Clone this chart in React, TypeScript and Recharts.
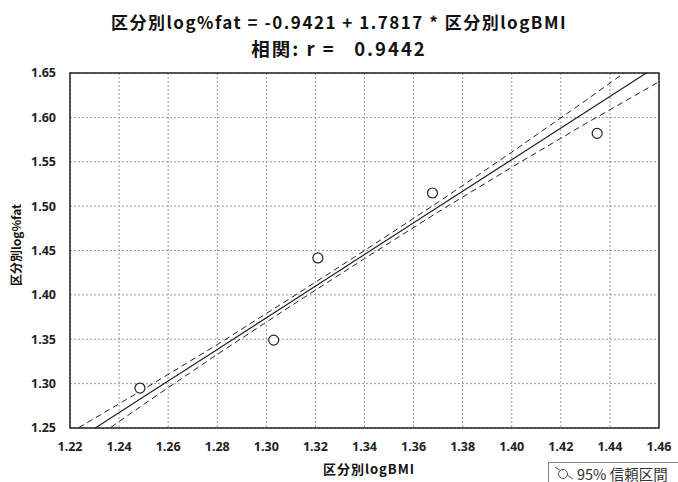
import {
  ComposedChart,
  Line,
  Scatter,
  XAxis,
  YAxis,
  CartesianGrid,
  ReferenceArea,
} from "recharts";

// observed points (区分別logBMI, 区分別log%fat)
const pointX = [1.2485, 1.303, 1.321, 1.3677, 1.4348];
const pointY = [1.295, 1.349, 1.4416, 1.5148, 1.582];

// regression line and 95% band, read at these x positions
const bandX = [1.22, 1.25, 1.28, 1.31, 1.34, 1.37, 1.4, 1.43, 1.46];
const fitY = [1.2316, 1.2851, 1.3385, 1.392, 1.4454, 1.4989, 1.5523, 1.6058, 1.6592];
const upperY = [1.2446, 1.2936, 1.344, 1.3965, 1.4499, 1.5044, 1.5608, 1.6188, 1.6782];
const lowerY = [1.2186, 1.2766, 1.333, 1.3875, 1.4409, 1.4934, 1.5438, 1.5928, 1.6402];

const xTicks = [1.22, 1.24, 1.26, 1.28, 1.3, 1.32, 1.34, 1.36, 1.38, 1.4, 1.42, 1.44, 1.46];
const yTicks = [1.25, 1.3, 1.35, 1.4, 1.45, 1.5, 1.55, 1.6, 1.65];

const lineData = bandX.map((x, i) => ({
  x,
  fit: fitY[i],
  upper: upperY[i],
  lower: lowerY[i],
}));
const pointData = pointX.map((x, i) => ({ x, y: pointY[i] }));

const FONT = "'Noto Sans', 'Noto Sans CJK JP', sans-serif";
const CJK = "'Noto Sans CJK JP', 'Noto Sans', sans-serif";
const tickStyle = { fontSize: 12.5, fontWeight: 700, fill: "#222", fontFamily: FONT };

const Ring = (props: any) => (
  <circle cx={props.cx} cy={props.cy} r={5} fill="#fff" stroke="#222" strokeWidth={1.2} />
);

export default function App() {
  return (
    <div style={{ position: "absolute", left: 0, top: 0, width: 678, height: 482, background: "#fff", overflow: "hidden" }}>
      <div
        style={{
          position: "absolute",
          top: 8,
          left: 0,
          width: 678,
          textAlign: "center",
          fontFamily: CJK,
          fontWeight: 700,
          color: "#111",
        }}
      >
        <div style={{ fontSize: 17, letterSpacing: 1.5, lineHeight: "27px" }}>
          区分別log%fat = -0.9421 + 1.7817 * 区分別logBMI
        </div>
        <div style={{ fontSize: 18.5, letterSpacing: 2, lineHeight: "27px", whiteSpace: "pre" }}>
          相関: r =   0.9442
        </div>
      </div>
      <ComposedChart
        width={678}
        height={482}
        data={lineData}
        margin={{ top: 73, right: 19, bottom: 24, left: 0 }}
      >
        <CartesianGrid xAxisId="b" yAxisId="l" stroke="#999" strokeDasharray="2 2" />
        <XAxis
          xAxisId="b"
          type="number"
          dataKey="x"
          domain={[1.22, 1.46]}
          ticks={xTicks}
          allowDataOverflow
          tickFormatter={(v) => v.toFixed(2)}
          tick={tickStyle}
          tickLine={false}
          axisLine={false}
          height={30}
          tickMargin={8}
        />
        <YAxis
          yAxisId="l"
          type="number"
          domain={[1.25, 1.65]}
          ticks={yTicks}
          allowDataOverflow
          tickFormatter={(v) => v.toFixed(2)}
          tick={tickStyle}
          tickLine={false}
          axisLine={false}
          width={70}
          tickMargin={8}
        />
        <Line xAxisId="b" yAxisId="l" dataKey="upper" stroke="#222" strokeWidth={1} strokeDasharray="6 4" dot={false} isAnimationActive={false} />
        <Line xAxisId="b" yAxisId="l" dataKey="lower" stroke="#222" strokeWidth={1} strokeDasharray="6 4" dot={false} isAnimationActive={false} />
        <Line xAxisId="b" yAxisId="l" dataKey="fit" stroke="#222" strokeWidth={1.2} dot={false} isAnimationActive={false} />
        <Scatter xAxisId="b" yAxisId="l" data={pointData} dataKey="y" shape={Ring} isAnimationActive={false} />
        <ReferenceArea
          xAxisId="b"
          yAxisId="l"
          x1={1.22}
          x2={1.46}
          y1={1.25}
          y2={1.65}
          fill="none"
          fillOpacity={0}
          stroke="#222"
          strokeWidth={1.5}
          strokeOpacity={1}
        />
      </ComposedChart>
      <div
        style={{
          position: "absolute",
          left: 0,
          top: 459,
          width: 738,
          textAlign: "center",
          fontFamily: CJK,
          fontWeight: 700,
          fontSize: 13,
          letterSpacing: 1,
          color: "#111",
        }}
      >
        区分別logBMI
      </div>
      <div
        style={{
          position: "absolute",
          left: 15,
          top: 245,
          transform: "translate(-50%, -50%) rotate(-90deg)",
          whiteSpace: "nowrap",
          fontFamily: CJK,
          fontWeight: 700,
          fontSize: 12,
          color: "#111",
        }}
      >
        区分別log%fat
      </div>
      <div
        style={{
          position: "absolute",
          left: 548,
          top: 462,
          width: 140,
          height: 22,
          border: "1px solid #888",
          boxSizing: "border-box",
          fontFamily: CJK,
          fontSize: 14.5,
          color: "#333",
          display: "flex",
          alignItems: "center",
        }}
      >
        <svg width={26} height={18} style={{ marginLeft: 2 }}>
          <line x1={4} y1={3} x2={22} y2={15} stroke="#555" strokeWidth={1} />
          <circle cx={12} cy={10} r={4.5} fill="#fff" stroke="#555" strokeWidth={1} />
        </svg>
        <span>95% 信頼区間</span>
      </div>
    </div>
  );
}
